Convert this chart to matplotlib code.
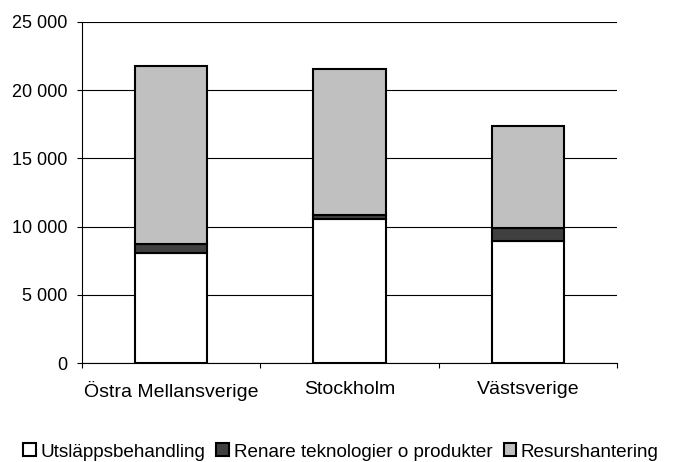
import matplotlib
matplotlib.use("Agg")
import matplotlib.pyplot as plt
from matplotlib.ticker import FuncFormatter, FixedLocator
import numpy as np

plt.rcParams['font.family'] = ['Liberation Sans', 'DejaVu Sans']

categories = ["Östra Mellansverige", "Stockholm", "Västsverige"]
series_names = ["Utsläppsbehandling", "Renare teknologier o produkter", "Resurshantering"]
utslapp = [8100, 10550, 8950]
renare = [650, 300, 950]
resurs = [13000, 10700, 7500]
colors = ["#ffffff", "#404040", "#c0c0c0"]

fig = plt.figure(figsize=(6.73, 4.62), dpi=100)
ax = fig.add_axes([82/673, 1-363/462, (617-82)/673, (363-22)/462])

x = np.arange(len(categories))
bottom = np.zeros(len(categories))
handles = []
for vals, name, c in zip([utslapp, renare, resurs], series_names, colors):
    b = ax.bar(x, vals, width=0.405, bottom=bottom, color=c, edgecolor="black", linewidth=1.5, label=name, zorder=3)
    bottom += np.array(vals)
    handles.append(b)

ax.set_xlim(-0.5, len(categories)-0.5)
ax.set_ylim(0, 25000)
ax.set_yticks(np.arange(0, 25001, 5000))
ax.yaxis.set_major_formatter(FuncFormatter(lambda v, p: f"{int(v):,}".replace(",", " ")))
ax.set_xticks(x)
ax.set_xticklabels(categories)
ax.xaxis.set_minor_locator(FixedLocator(np.arange(-0.5, len(categories), 1.0)))
ax.tick_params(axis='x', which='major', length=0, pad=13, labelsize=14)
ax.tick_params(axis='x', which='minor', length=3.6, width=0.8, direction='out')
ax.tick_params(axis='y', length=3.6, width=0.8, direction='out', pad=7, labelsize=13)

ax.yaxis.grid(True, color="black", linewidth=0.8, zorder=0)
ax.set_axisbelow(True)
for s in ["top", "right"]:
    ax.spines[s].set_visible(False)
ax.spines["left"].set_linewidth(0.8)
ax.spines["bottom"].set_linewidth(0.8)

fs = 13.6
fspx = fs * 100 / 72
fig.legend(handles=handles, labels=series_names, loc="center left", bbox_to_anchor=(23/673, 1-452/462),
           ncol=3, frameon=False, fontsize=fs, handlelength=12.5/fspx, handleheight=12.5/fspx,
           handletextpad=5/fspx, columnspacing=11/fspx, borderaxespad=0, borderpad=0)

fig.savefig("out.png", dpi=100)
